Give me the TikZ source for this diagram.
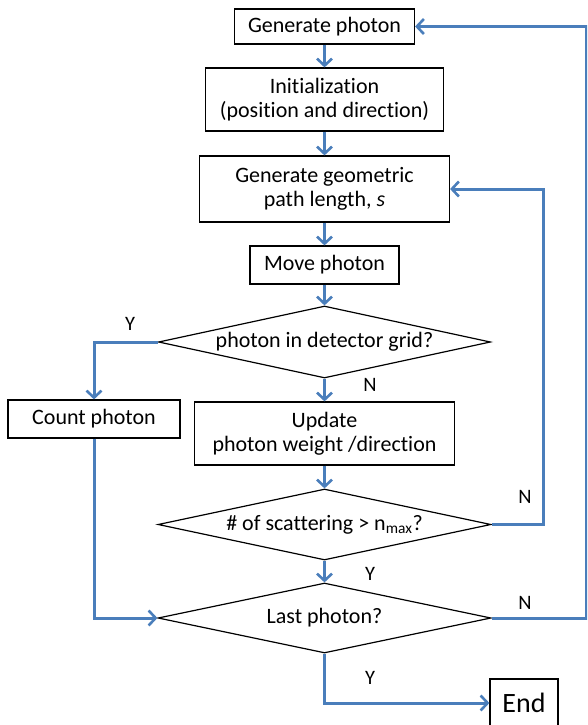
\documentclass[tikz,border=0pt]{standalone}
\usepackage{fontspec}
\setmainfont{Carlito}[Ligatures={NoCommon}]
\usetikzlibrary{shapes.geometric,arrows.meta}
\definecolor{flowblue}{RGB}{74,126,187}
\begin{document}
\begin{tikzpicture}[x=1pt,y=-1pt,
  box/.style={draw=black,line width=1.2pt,rectangle,inner sep=0pt,align=center,font=\fontsize{22}{24.5}\selectfont},
  dec/.style={draw=black,line width=1.2pt,diamond,inner sep=0pt,font=\fontsize{22}{24.5}\selectfont},
  flow/.style={draw=flowblue,line width=3pt,-{Straight Barb[length=7pt,width=15pt,line width=2.6pt]}},
  lab/.style={font=\fontsize{20.5}{24}\selectfont}]
\useasboundingbox (0,0) rectangle (587,725);
\clip (0,0) rectangle (587,725);
\fill[white] (0,0) rectangle (587,725);

\node[box,minimum width=180pt,minimum height=35pt] (gen) at (324.5,26.5) {Generate photon};
\node[box,minimum width=238pt,minimum height=63pt] (init) at (324.5,99.5) {Initialization\\(position and direction)};
\node[box,minimum width=250pt,minimum height=66pt] (geo) at (324.5,189) {Generate geometric\\path length, \textit{s}};
\node[box,minimum width=149pt,minimum height=38pt] (move) at (324.5,265) {Move photon};
\node[dec,minimum width=332pt,minimum height=72pt] (d1) at (324.5,342) {\makebox[0pt]{photon in detector grid?}};
\node[box,minimum width=172pt,minimum height=38pt] (count) at (94,419) {Count photon};
\node[box,minimum width=260pt,minimum height=63pt] (upd) at (324.5,433.5) {Update\\photon weight /direction};
\node[dec,minimum width=333pt,minimum height=71pt] (d2) at (324.5,524.5) {\makebox[0pt]{\# of scattering > n\textsubscript{max}?}};
\node[dec,minimum width=333pt,minimum height=70pt] (d3) at (324.5,618) {\makebox[0pt]{Last photon?}};
\node[box,minimum width=68pt,minimum height=48pt,font=\fontsize{28}{30}\selectfont] (endb) at (524,703) {End};

\coordinate (r1) at (543,0);
\coordinate (r2) at (586,0);

\draw[flow] (gen) -- (init);
\draw[flow] (init) -- (geo);
\draw[flow] (geo) -- (move);
\draw[flow] (move) -- (d1);
\draw[flow] (d1.west) -| (count.north);
\draw[flow] (d1) -- (upd);
\draw[flow] (upd) -- (d2);
\draw[flow] (d2.east) -- (d2.east -| r1) |- (geo.east);
\draw[flow] (d2) -- (d3);
\draw[flow] (d3.east) -- (d3.east -| r2) |- (gen.east);
\draw[flow] (count.south) |- (d3.west);
\draw[flow] (d3.south) |- (endb.west);

\node[lab] (ly1) at (130,324) {Y};
\node[lab] (ln1) at (370,385) {N};
\node[lab] (ln2) at (525,497) {N};
\node[lab] (ly2) at (370,574) {Y};
\node[lab] (ln3) at (525,603) {N};
\node[lab] (ly3) at (370,678) {Y};
\end{tikzpicture}
\end{document}
